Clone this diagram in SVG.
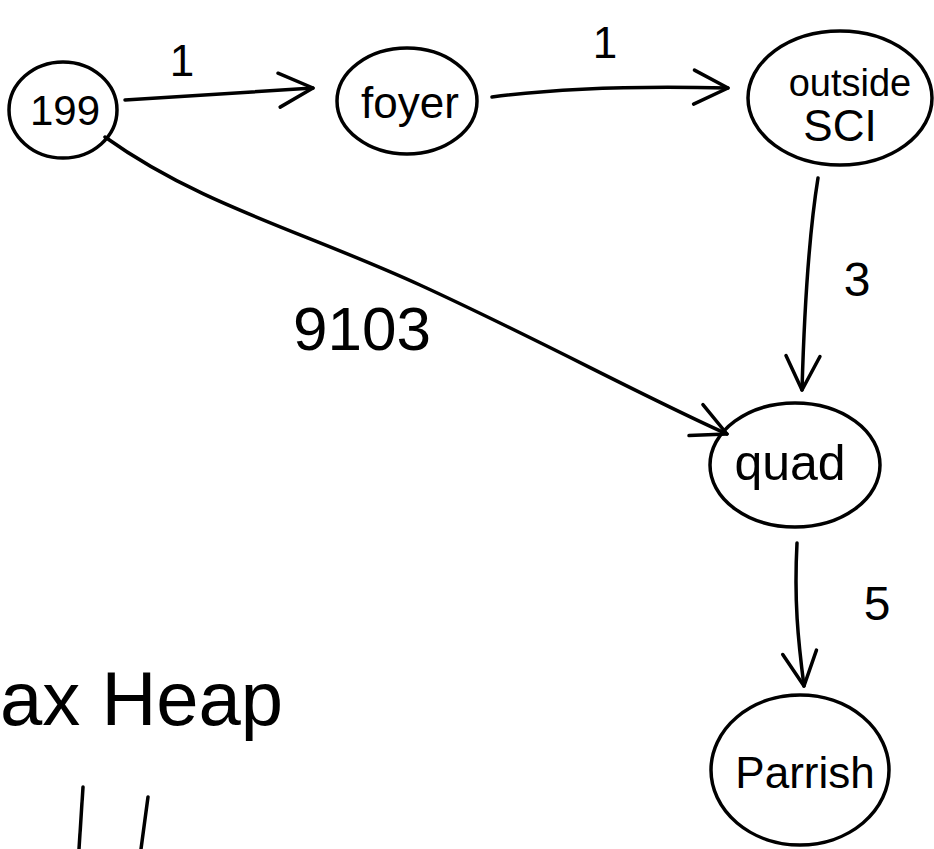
<svg xmlns="http://www.w3.org/2000/svg" width="934" height="849" viewBox="0 0 934 849">
<defs>
<style>
.n{fill:none;stroke:#000;stroke-width:3.5}
.e{fill:none;stroke:#000;stroke-width:3.5;stroke-linecap:round;marker-end:url(#ah)}
.s{fill:none;stroke:#000;stroke-width:3.5;stroke-linecap:round}
text{font-family:"Liberation Sans",Arial,sans-serif;fill:#000}
.lbl{text-anchor:middle}
</style>
<marker id="ah" viewBox="0 0 40 40" refX="37" refY="20" markerWidth="40" markerHeight="40" markerUnits="userSpaceOnUse" orient="auto">
<path d="M3,3 L37,20 L3,37" fill="none" stroke="#000" stroke-width="3.5" stroke-linecap="round" stroke-linejoin="round"/>
</marker>
</defs>
<rect width="934" height="849" fill="#fff"/>
<g id="connectors">
<path class="e" d="M125,100 L313,88"/>
<path class="e" d="M492,97 C560,88 650,86 728,88"/>
<path class="e" d="M818,178 C808,240 804,320 802,390"/>
<path class="e" d="M105,137 C200,205 300,230 420,285 S640,395 727,434"/>
<path class="e" d="M797,543 C794,600 798,640 804,686"/>
<text class="lbl" x="182" y="76" font-size="44">1</text>
<text class="lbl" x="605" y="58" font-size="44">1</text>
<text class="lbl" x="857" y="296" font-size="48">3</text>
<text class="lbl" x="877" y="620" font-size="48">5</text>
<text class="lbl" x="362" y="350" font-size="62">9103</text>
</g>
<g id="n199">
<ellipse class="n" cx="63" cy="110" rx="54" ry="48"/>
<text class="lbl" x="65" y="125" font-size="42">199</text>
</g>
<g id="nfoyer">
<ellipse class="n" cx="407" cy="101" rx="70" ry="53"/>
<text class="lbl" x="410" y="118" font-size="44">foyer</text>
</g>
<g id="noutside">
<ellipse class="n" cx="840" cy="98" rx="92" ry="67"/>
<text class="lbl" x="850" y="96" font-size="38">outside</text>
<text class="lbl" x="840" y="141" font-size="44">SCI</text>
</g>
<g id="nquad">
<ellipse class="n" cx="795" cy="465" rx="85" ry="62"/>
<text class="lbl" x="790" y="480" font-size="50">quad</text>
</g>
<g id="nparrish">
<ellipse class="n" cx="800" cy="770" rx="89" ry="75"/>
<text class="lbl" x="805" y="788" font-size="44">Parrish</text>
</g>
<g id="maxheap">
<text x="0" y="725" font-size="76">ax Heap</text>
<path class="s" d="M83,787 L79,849"/>
<path class="s" d="M148,797 L141,849"/>
</g>
</svg>
